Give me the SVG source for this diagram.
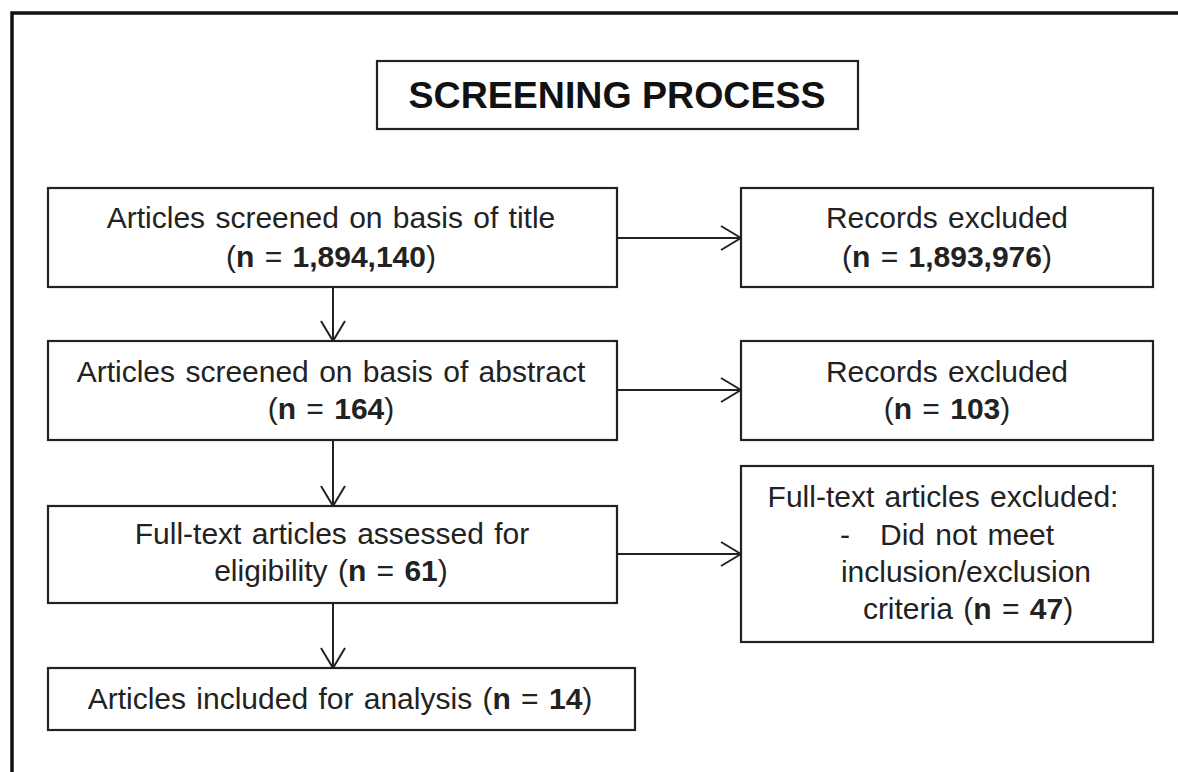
<svg xmlns="http://www.w3.org/2000/svg" width="1178" height="772" viewBox="0 0 1178 772">
  <style>
    .box { fill: #fff; stroke: #222; stroke-width: 2.2; }
    .t { font-family: "Liberation Sans", Arial, sans-serif; font-size: 30px; fill: #222; text-anchor: middle; word-spacing: 2px; }
    .title { font-family: "Liberation Sans", Arial, sans-serif; font-size: 36px; font-weight: bold; fill: #111; text-anchor: middle; }
    .b { font-weight: bold; }
    .conn { fill: none; stroke: #222; stroke-width: 2; }
  </style>
  <defs>
    <marker id="v" viewBox="0 0 22 26" refX="21" refY="13" markerWidth="22" markerHeight="26" orient="auto" markerUnits="userSpaceOnUse">
      <path d="M1,1 L21,13 L1,25" fill="none" stroke="#222" stroke-width="2"/>
    </marker>
  </defs>
  <rect width="1178" height="772" fill="#fff"/>
  <path d="M12,772 V13 H1178" fill="none" stroke="#111" stroke-width="3.5"/>

  <g id="title">
    <rect class="box" x="377" y="61" width="481" height="68"/>
    <text class="title" x="617" y="108" textLength="417" lengthAdjust="spacingAndGlyphs">SCREENING PROCESS</text>
  </g>

  <g id="n1">
    <rect class="box" x="48" y="188" width="569" height="99"/>
    <text class="t" x="331" y="228">Articles screened on basis of title</text>
    <text class="t" x="331" y="267">(<tspan class="b">n</tspan> = <tspan class="b">1,894,140</tspan>)</text>
  </g>
  <g id="e1">
    <rect class="box" x="741" y="188" width="412" height="99"/>
    <text class="t" x="947" y="228">Records excluded</text>
    <text class="t" x="947" y="267">(<tspan class="b">n</tspan> = <tspan class="b">1,893,976</tspan>)</text>
  </g>

  <g id="n2">
    <rect class="box" x="48" y="341" width="569" height="99"/>
    <text class="t" x="331" y="382">Articles screened on basis of abstract</text>
    <text class="t" x="331" y="419">(<tspan class="b">n</tspan> = <tspan class="b">164</tspan>)</text>
  </g>
  <g id="e2">
    <rect class="box" x="741" y="341" width="412" height="99"/>
    <text class="t" x="947" y="382">Records excluded</text>
    <text class="t" x="947" y="419">(<tspan class="b">n</tspan> = <tspan class="b">103</tspan>)</text>
  </g>

  <g id="n3">
    <rect class="box" x="48" y="506" width="569" height="97"/>
    <text class="t" x="332" y="544">Full-text articles assessed for</text>
    <text class="t" x="331" y="581">eligibility (<tspan class="b">n</tspan> = <tspan class="b">61</tspan>)</text>
  </g>
  <g id="e3">
    <rect class="box" x="741" y="466" width="412" height="176"/>
    <text class="t" x="943" y="507">Full-text articles excluded:</text>
    <text class="t" x="840" y="545" text-anchor="start" style="text-anchor:start">-</text>
    <text class="t" x="880" y="545" style="text-anchor:start">Did not meet</text>
    <text class="t" x="966" y="582">inclusion/exclusion</text>
    <text class="t" x="968" y="619">criteria (<tspan class="b">n</tspan> = <tspan class="b">47</tspan>)</text>
  </g>

  <g id="n4">
    <rect class="box" x="48" y="668" width="587" height="62"/>
    <text class="t" x="340" y="709">Articles included for analysis (<tspan class="b">n</tspan> = <tspan class="b">14</tspan>)</text>
  </g>

  <g id="connectors">
    <line class="conn" x1="333" y1="287" x2="333" y2="341" marker-end="url(#v)"/>
    <line class="conn" x1="333" y1="440" x2="333" y2="506" marker-end="url(#v)"/>
    <line class="conn" x1="333" y1="603" x2="333" y2="668" marker-end="url(#v)"/>
    <line class="conn" x1="617" y1="238" x2="741" y2="238" marker-end="url(#v)"/>
    <line class="conn" x1="617" y1="390" x2="741" y2="390" marker-end="url(#v)"/>
    <line class="conn" x1="617" y1="554" x2="741" y2="554" marker-end="url(#v)"/>
  </g>
</svg>
